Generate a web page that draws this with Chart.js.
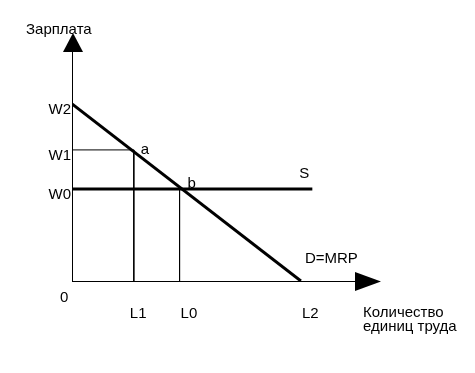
<!DOCTYPE html>
<html>
<head>
<meta charset="utf-8">
<script src="https://cdn.jsdelivr.net/npm/chart.js@4"></script>
<style>
html,body{margin:0;padding:0;background:#fff;}
canvas{display:block;}
</style>
</head>
<body>
<canvas id="c" width="475" height="373"></canvas>
<script>
// ---- data ----
const wageLabels = ['W0', 'W1', 'W2'];
const wageValues = [5.2, 7.4, 10];
const laborLabels = ['L1', 'L0', 'L2'];
const laborValues = [2.7, 4.7, 10];
const supplyEnd = 10.5;
const yTitle = 'Зарплата';
const xTitle = ['Количество', 'единиц труда'];
const curveLabels = { demand: 'D=MRP', supply: 'S', a: 'a', b: 'b', origin: '0' };

const W0 = wageValues[0], W1 = wageValues[1], W2 = wageValues[2];
const L1 = laborValues[0], L0 = laborValues[1], L2 = laborValues[2];

const FONT = '15px "Liberation Sans", Arial, sans-serif';

const overlay = {
  id: 'overlay',
  afterDatasetsDraw(chart) {
    const ctx = chart.ctx;
    const xs = chart.scales.x, ys = chart.scales.y;
    const X = v => xs.getPixelForValue(v);
    const Y = v => ys.getPixelForValue(v);
    const ox = X(0), oy = Y(0);
    ctx.save();
    ctx.strokeStyle = '#000';
    ctx.fillStyle = '#000';
    ctx.lineWidth = 1;
    // axes
    ctx.beginPath();
    ctx.moveTo(ox + 0.5, oy + 0.5);
    ctx.lineTo(ox + 0.5, chart.chartArea.top + 10);
    ctx.moveTo(ox, oy + 0.5);
    ctx.lineTo(chart.chartArea.right - 10, oy + 0.5);
    ctx.stroke();
    // arrows
    const top = chart.chartArea.top, right = chart.chartArea.right;
    ctx.beginPath();
    ctx.moveTo(ox + 1, top);
    ctx.lineTo(ox + 11, top + 19);
    ctx.lineTo(ox - 9, top + 19);
    ctx.closePath();
    ctx.fill();
    ctx.beginPath();
    ctx.moveTo(right, oy + 0.5);
    ctx.lineTo(right - 26, oy + 10);
    ctx.lineTo(right - 26, oy - 9);
    ctx.closePath();
    ctx.fill();

    ctx.font = FONT;
    ctx.textBaseline = 'alphabetic';
    // y labels
    ctx.textAlign = 'right';
    wageLabels.forEach((t, i) => {
      ctx.fillText(t, ox - 1, Y(wageValues[i]) + 10);
    });
    // x labels
    ctx.textAlign = 'left';
    const xOff = [-4, 1, 1];
    laborLabels.forEach((t, i) => {
      ctx.fillText(t, X(laborValues[i]) + xOff[i], oy + 37);
    });
    ctx.fillText(curveLabels.origin, ox - 12, oy + 21);
    // titles
    ctx.fillText(yTitle, ox - 46, top + 1);
    ctx.fillText(xTitle[0], right - 18, oy + 36);
    ctx.fillText(xTitle[1], right - 18, oy + 50);
    // curve labels
    ctx.fillText(curveLabels.a, X(L1) + 7, Y(W1) + 4);
    ctx.fillText(curveLabels.b, X(L0) + 8, Y(W0) - 1);
    ctx.fillText(curveLabels.supply, X(supplyEnd) - 13, Y(W0) - 11);
    ctx.fillText(curveLabels.demand, X(L2) + 4, oy - 18);
    ctx.restore();
  }
};

new Chart(document.getElementById('c'), {
  type: 'line',
  data: {
    datasets: [
      { data: [{x: 0, y: W2}, {x: L2, y: 0}], borderColor: '#000', borderWidth: 3, pointRadius: 0 },
      { data: [{x: 0, y: W0}, {x: supplyEnd, y: W0}], borderColor: '#000', borderWidth: 3, pointRadius: 0 },
      { data: [{x: 0, y: W1}, {x: L1, y: W1}, {x: L1, y: 0}], borderColor: '#000', borderWidth: 1, pointRadius: 0 },
      { data: [{x: L0, y: W0}, {x: L0, y: 0}], borderColor: '#000', borderWidth: 1, pointRadius: 0 }
    ]
  },
  options: {
    responsive: false,
    animation: false,
    parsing: true,
    layout: { padding: { left: 72, right: 94, top: 33, bottom: 92 } },
    plugins: { legend: { display: false }, tooltip: { enabled: false } },
    elements: { line: { tension: 0, borderCapStyle: 'butt' } },
    scales: {
      x: { type: 'linear', min: 0, max: 13.5, display: false },
      y: { type: 'linear', min: 0, max: 14.0, display: false }
    }
  },
  plugins: [overlay]
});
</script>
</body>
</html>
